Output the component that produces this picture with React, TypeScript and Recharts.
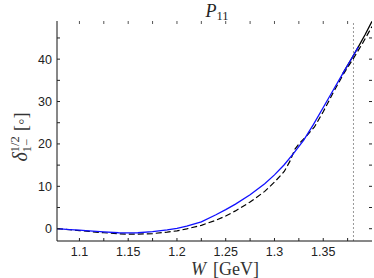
import { LineChart, Line, XAxis, YAxis, ReferenceLine } from "recharts"

// P11 phase shift vs W
const wBlue = [1.077, 1.09, 1.1, 1.11, 1.125, 1.14, 1.15, 1.16, 1.175, 1.19, 1.2, 1.21, 1.225, 1.24, 1.25, 1.26, 1.275, 1.29, 1.3, 1.31, 1.32, 1.33, 1.34, 1.35, 1.36, 1.37, 1.38, 1.386]
const deltaBlue = [0, -0.2, -0.35, -0.5, -0.75, -0.95, -1.0, -0.95, -0.7, -0.3, 0.1, 0.6, 1.6, 3.3, 4.5, 5.8, 8.0, 10.6, 12.7, 15.1, 17.9, 20.9, 24.6, 28.6, 32.6, 36.6, 40.5, 42.9]

const wSolid = [1.37, 1.38, 1.386, 1.393, 1.4]
const deltaSolid = [36.6, 40.5, 42.9, 45.8, 48.9]

const wDash = [1.077, 1.09, 1.1, 1.11, 1.125, 1.14, 1.15, 1.16, 1.175, 1.19, 1.2, 1.21, 1.225, 1.24, 1.25, 1.26, 1.275, 1.29, 1.3, 1.31, 1.316, 1.321, 1.327, 1.333, 1.341, 1.35, 1.36, 1.371, 1.381, 1.39, 1.4]
const deltaDash = [0, -0.25, -0.45, -0.65, -0.95, -1.2, -1.3, -1.3, -1.15, -0.8, -0.5, -0.05, 0.8, 2.0, 3.0, 4.2, 6.3, 8.8, 11.0, 13.5, 16.0, 18.8, 20.5, 21.9, 24.0, 27.6, 32.0, 36.6, 40.2, 43.6, 47.7]

const xTicks = [1.1, 1.15, 1.2, 1.25, 1.3, 1.35]
const xMinorTicks = [1.1, 1.125, 1.15, 1.175, 1.2, 1.225, 1.25, 1.275, 1.3, 1.325, 1.35, 1.375]
const yTicks = [0, 10, 20, 30, 40]
const yMinorTicks = [0, 5, 10, 15, 20, 25, 30, 35, 40, 45]
const xDomain = [1.077, 1.4]
const yDomain = [-2.9, 49]
const wThreshold = 1.381

const blueData = wBlue.map((w, i) => ({ w, d: deltaBlue[i] }))
const solidData = wSolid.map((w, i) => ({ w, d: deltaSolid[i] }))
const dashData = wDash.map((w, i) => ({ w, d: deltaDash[i] }))

const W = 374
const H = 278
const margin = { top: 21, right: 2, bottom: 0, left: 0 }
const xAxisH = 37
const yAxisW = 57
const plotW = W - margin.left - margin.right - yAxisW
const plotH = H - margin.top - margin.bottom - xAxisH
const gap = 6 // label gap below x axis
const ygap = 5 // label gap left of y axis
const tickLen = 3

const serif = "'Liberation Serif', 'DejaVu Serif', serif"
const sans = "'Liberation Sans', Arial, sans-serif"

function XTick(props: any) {
  const { x, y, payload } = props
  const axisY = y - gap
  const major = xTicks.includes(payload.value)
  return (
    <g>
      <line x1={x} x2={x} y1={axisY} y2={axisY - tickLen} stroke="#222" />
      <line x1={x} x2={x} y1={axisY - plotH} y2={axisY - plotH + tickLen} stroke="#555" />
      {major && (
        <text x={x} y={y} dy="0.71em" textAnchor="middle" fontSize={12.5} fontFamily={sans} fill="#222">
          {payload.value}
        </text>
      )}
    </g>
  )
}

function YTick(props: any) {
  const { x, y, payload } = props
  const axisX = x + ygap
  const major = yTicks.includes(payload.value)
  return (
    <g>
      <line x1={axisX} x2={axisX + tickLen} y1={y} y2={y} stroke="#222" />
      <line x1={axisX + plotW} x2={axisX + plotW - tickLen} y1={y} y2={y} stroke="#222" />
      {major && (
        <text x={x} y={y} dy="0.355em" textAnchor="end" fontSize={12.5} fontFamily={sans} fill="#222">
          {payload.value}
        </text>
      )}
    </g>
  )
}

export default function App() {
  return (
    <div style={{ position: "absolute", left: 0, top: 0, width: W, height: H, background: "#fff" }}>
      <LineChart width={W} height={H} margin={margin}>
        <XAxis xAxisId="main" dataKey="w" type="number" domain={xDomain} allowDataOverflow ticks={xMinorTicks}
          interval={0} height={xAxisH} tickLine={false} tickSize={0} tickMargin={gap} tick={<XTick />} axisLine={{ stroke: "#111" }} />
        <XAxis xAxisId="tp" orientation="top" type="number" domain={xDomain} allowDataOverflow height={0}
          tick={false} tickLine={false} axisLine={{ stroke: "#999" }} />
        <YAxis yAxisId="main" type="number" domain={yDomain} allowDataOverflow ticks={yMinorTicks}
          interval={0} width={yAxisW} tickLine={false} tickSize={0} tickMargin={ygap} tick={<YTick />} axisLine={{ stroke: "#111" }} />
        <YAxis yAxisId="rt" orientation="right" type="number" domain={yDomain} allowDataOverflow width={0}
          tick={false} tickLine={false} axisLine={{ stroke: "#111" }} />
        <ReferenceLine xAxisId="main" yAxisId="main" x={wThreshold} stroke="#999" strokeDasharray="2 2" strokeWidth={1} />
        <Line xAxisId="main" yAxisId="main" data={solidData} dataKey="d" stroke="#000" strokeWidth={1.3} dot={false} isAnimationActive={false} />
        <Line xAxisId="main" yAxisId="main" data={dashData} dataKey="d" stroke="#000" strokeWidth={1.2} strokeDasharray="6 3" dot={false} isAnimationActive={false} />
        <Line xAxisId="main" yAxisId="main" data={blueData} dataKey="d" stroke="#1010ff" strokeWidth={1.3} dot={false} isAnimationActive={false} />
      </LineChart>
      <svg width={W} height={H} style={{ position: "absolute", left: 0, top: 0, pointerEvents: "none" }}>
        <text x={217} y={17} textAnchor="middle" fontFamily={serif} fontSize={18} fill="#222">
          <tspan fontStyle="italic">P</tspan>
          <tspan fontSize={12.5} dy={3}>11</tspan>
        </text>
        <text x={225} y={275} textAnchor="middle" fontFamily={serif} fontSize={18} fill="#333">
          <tspan fontStyle="italic">W</tspan>
          <tspan dx={7}>[GeV]</tspan>
        </text>
        <text transform="translate(27,137) rotate(-90)" textAnchor="middle" fontFamily={serif} fontSize={20} fill="#333">
          <tspan fontStyle="italic">δ</tspan>
          <tspan fontSize={12.5} dy={-8}>1/2</tspan>
          <tspan fontSize={12.5} dx={-16} dy={12}>1−</tspan>
          <tspan fontSize={18} dx={8} dy={-4}>[◦]</tspan>
        </text>
      </svg>
    </div>
  )
}
